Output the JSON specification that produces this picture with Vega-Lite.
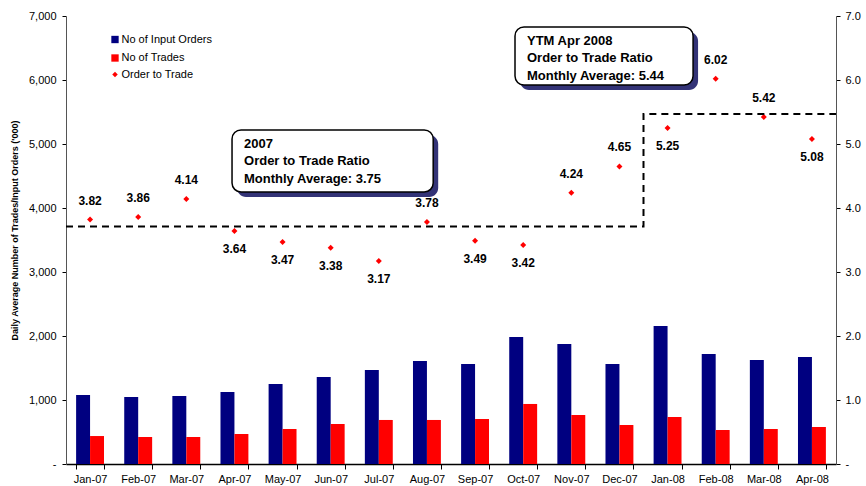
{
  "$schema": "https://vega.github.io/schema/vega-lite/v6.json",
  "width": 770,
  "height": 448,
  "autosize": {"type": "none"},
  "padding": {"left": 66, "top": 16, "right": 30, "bottom": 22},
  "background": "white",
  "config": {
    "font": "Liberation Sans",
    "view": {"stroke": null},
    "axis": {"grid": false, "domainColor": "#000000", "tickColor": "#000000", "labelColor": "#000000", "labelFontSize": 11, "labelFont": "Liberation Sans"}
  },
  "datasets": {
    "months": [
      {"month": "Jan-07", "No of Input Orders": 1078, "No of Trades": 437, "ratio": 3.82},
      {"month": "Feb-07", "No of Input Orders": 1047, "No of Trades": 422, "ratio": 3.86},
      {"month": "Mar-07", "No of Input Orders": 1062, "No of Trades": 422, "ratio": 4.14},
      {"month": "Apr-07", "No of Input Orders": 1125, "No of Trades": 469, "ratio": 3.64},
      {"month": "May-07", "No of Input Orders": 1250, "No of Trades": 547, "ratio": 3.47},
      {"month": "Jun-07", "No of Input Orders": 1359, "No of Trades": 625, "ratio": 3.38},
      {"month": "Jul-07", "No of Input Orders": 1469, "No of Trades": 688, "ratio": 3.17},
      {"month": "Aug-07", "No of Input Orders": 1609, "No of Trades": 688, "ratio": 3.78},
      {"month": "Sep-07", "No of Input Orders": 1562, "No of Trades": 703, "ratio": 3.49},
      {"month": "Oct-07", "No of Input Orders": 1984, "No of Trades": 938, "ratio": 3.42},
      {"month": "Nov-07", "No of Input Orders": 1875, "No of Trades": 766, "ratio": 4.24},
      {"month": "Dec-07", "No of Input Orders": 1562, "No of Trades": 609, "ratio": 4.65},
      {"month": "Jan-08", "No of Input Orders": 2156, "No of Trades": 734, "ratio": 5.25},
      {"month": "Feb-08", "No of Input Orders": 1719, "No of Trades": 531, "ratio": 6.02},
      {"month": "Mar-08", "No of Input Orders": 1625, "No of Trades": 547, "ratio": 5.42},
      {"month": "Apr-08", "No of Input Orders": 1672, "No of Trades": 578, "ratio": 5.08}
    ],
    "steps": [
      {"pos": 0, "level": 3.71, "seq": 1},
      {"pos": 12, "level": 3.71, "seq": 2},
      {"pos": 12, "level": 5.47, "seq": 3},
      {"pos": 16, "level": 5.47, "seq": 4}
    ],
    "boxes": [
      {"x": 3.45, "x2": 7.63, "y": 5.22, "y2": 4.25, "label": "2007\nOrder to Trade Ratio\nMonthly Average: 3.75"},
      {"x": 9.33, "x2": 13.03, "y": 6.83, "y2": 5.92, "label": "YTM Apr 2008\nOrder to Trade Ratio\nMonthly Average: 5.44"}
    ]
  },
  "layer": [
    {
      "data": {"name": "months"},
      "transform": [{"fold": ["No of Input Orders", "No of Trades"], "as": ["series", "value"]}],
      "mark": {"type": "bar"},
      "encoding": {
        "x": {
          "field": "month", "type": "nominal", "sort": null,
          "scale": {"paddingInner": 0.42, "paddingOuter": 0.21},
          "axis": {"title": null, "labelAngle": 0, "tickBand": "extent", "tickSize": 5, "labelPadding": 4, "domainWidth": 1.5}
        },
        "xOffset": {"field": "series", "type": "nominal", "scale": {"paddingInner": 0, "paddingOuter": 0}},
        "y": {
          "field": "value", "type": "quantitative",
          "scale": {"domain": [0, 7000], "nice": false},
          "axis": {
            "orient": "left",
            "values": [0, 1000, 2000, 3000, 4000, 5000, 6000, 7000],
            "labelExpr": "datum.value == 0 ? '-' : format(datum.value, ',')",
            "tickSize": 4, "labelPadding": 6, "domainColor": "#555555",
            "title": "Daily Average Number of Trades/Input Orders ('000)",
            "titleFontSize": 9, "titleFontWeight": "bold", "titleX": -52, "titleY": 214,
            "titleAngle": -90, "titleAlign": "center", "titleBaseline": "middle"
          }
        },
        "color": {
          "field": "series", "type": "nominal",
          "scale": {"domain": ["No of Input Orders", "No of Trades"], "range": ["#000080", "#FF0000"]},
          "legend": {
            "orient": "none", "legendX": 43.5, "legendY": 18, "title": null,
            "symbolType": "square", "symbolSize": 54, "labelFontSize": 11, "labelOffset": 1,
            "rowPadding": 6.5, "padding": 0, "labelColor": "#000000"
          }
        }
      }
    },
    {
      "data": {"name": "months"},
      "encoding": {
        "x": {
          "field": "month", "type": "nominal", "sort": null,
          "scale": {"paddingInner": 0.42, "paddingOuter": 0.21},
          "axis": null
        },
        "y": {
          "field": "ratio", "type": "quantitative",
          "scale": {"domain": [0, 7], "nice": false},
          "axis": {
            "orient": "right",
            "values": [0, 1, 2, 3, 4, 5, 6, 7],
            "labelExpr": "datum.value == 0 ? '-' : format(datum.value, '.1f')",
            "tickSize": 4, "labelPadding": 5, "domainColor": "#555555", "title": null
          }
        }
      },
      "layer": [
        {
          "mark": {"type": "point", "filled": true, "size": 36, "color": "#FF0000", "opacity": 1},
          "encoding": {
            "shape": {
              "datum": "Order to Trade",
              "scale": {"range": ["diamond"]},
              "legend": {
                "orient": "none", "legendX": 43.5, "legendY": 53, "title": null,
                "symbolSize": 30, "labelFontSize": 11, "labelOffset": 1, "padding": 0,
                "symbolFillColor": "#FF0000", "symbolStrokeColor": "#FF0000", "labelColor": "#000000"
              }
            }
          }
        },
        {
          "transform": [{"filter": {"field": "month", "oneOf": ["Jan-07", "Feb-07", "Mar-07", "Aug-07", "Nov-07", "Dec-07", "Feb-08", "Mar-08"]}}],
          "mark": {"type": "text", "fontWeight": "bold", "fontSize": 12, "dy": -19, "baseline": "middle", "color": "#000000"},
          "encoding": {"text": {"field": "ratio", "type": "quantitative", "format": ".2f"}}
        },
        {
          "transform": [{"filter": {"field": "month", "oneOf": ["Apr-07", "May-07", "Jun-07", "Jul-07", "Sep-07", "Oct-07", "Jan-08", "Apr-08"]}}],
          "mark": {"type": "text", "fontWeight": "bold", "fontSize": 12, "dy": 18, "baseline": "middle", "color": "#000000"},
          "encoding": {"text": {"field": "ratio", "type": "quantitative", "format": ".2f"}}
        }
      ]
    },
    {
      "layer": [
        {
          "data": {"name": "steps"},
          "mark": {"type": "line", "color": "#000000", "strokeWidth": 2, "strokeDash": [7, 5], "interpolate": "linear"},
          "encoding": {
            "x": {"field": "pos", "type": "quantitative", "scale": {"domain": [0, 16], "nice": false, "zero": false}, "axis": null},
            "y": {"field": "level", "type": "quantitative", "scale": {"domain": [0, 7], "nice": false}, "axis": null},
            "order": {"field": "seq", "type": "quantitative"}
          }
        },
        {
          "data": {"name": "boxes"},
          "mark": {"type": "rect", "fill": "#333377", "cornerRadius": 9, "xOffset": 5, "x2Offset": 5, "yOffset": 5, "y2Offset": 5},
          "encoding": {
            "x": {"field": "x", "type": "quantitative"},
            "x2": {"field": "x2"},
            "y": {"field": "y", "type": "quantitative"},
            "y2": {"field": "y2"}
          }
        },
        {
          "data": {"name": "boxes"},
          "mark": {"type": "rect", "fill": "#FFFFFF", "stroke": "#000000", "strokeWidth": 1.5, "cornerRadius": 9},
          "encoding": {
            "x": {"field": "x", "type": "quantitative"},
            "x2": {"field": "x2"},
            "y": {"field": "y", "type": "quantitative"},
            "y2": {"field": "y2"}
          }
        },
        {
          "data": {"name": "boxes"},
          "mark": {"type": "text", "align": "left", "baseline": "top", "dx": 12, "dy": 8, "fontSize": 13, "fontWeight": "bold", "lineBreak": "\n", "lineHeight": 17.5, "color": "#000000"},
          "encoding": {
            "x": {"field": "x", "type": "quantitative"},
            "y": {"field": "y", "type": "quantitative"},
            "text": {"field": "label", "type": "nominal"}
          }
        }
      ]
    }
  ],
  "resolve": {"scale": {"x": "independent", "y": "independent", "color": "independent", "shape": "independent"}}
}
